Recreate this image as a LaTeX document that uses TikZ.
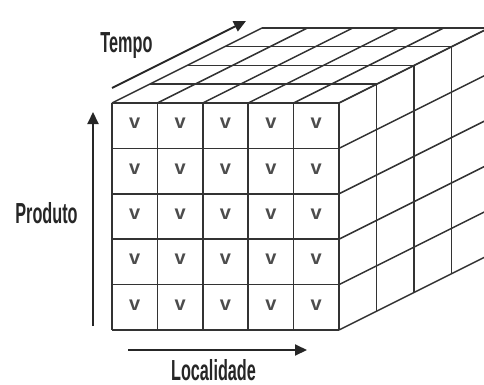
\documentclass[tikz,border=0pt]{standalone}
\usepackage{fontspec}
\setmainfont{Liberation Sans}
\newfontfamily\narrowfont[FakeStretch=0.56]{Liberation Sans}
\usetikzlibrary{arrows.meta}

\begin{document}
\begin{tikzpicture}[
  x=1pt,
  y=-1pt,
  cubeline/.style={black!80, line width=1.5pt},
  axis/.style={black!85, line width=2pt, -{Triangle[length=12pt, width=11pt]}},
  axislabel/.style={font=\narrowfont\bfseries\fontsize{29}{29}\selectfont, text=black!85, anchor=base, inner sep=0pt},
  cellmark/.style={font=\bfseries\fontsize{20}{20}\selectfont, text=black!70, inner sep=0pt}
]
\useasboundingbox (0,0) rectangle (484,385);

% top face
\foreach \i in {0,...,5}
  \draw[cubeline] (112+\i*45.4,103) -- ++(150,-75);
\foreach \k in {0,...,4}
  \draw[cubeline] (112+\k*37.5,103-\k*18.75) -- ++(227,0);

% right face
\foreach \k in {0,...,4}
  \draw[cubeline] (339+\k*37.5,103-\k*18.75) -- ++(0,227);
\foreach \j in {0,...,5}
  \draw[cubeline] (339,103+\j*45.4) -- ++(150,-75);

% front face
\foreach \i in {0,...,5}
  \draw[cubeline] (112+\i*45.4,103) -- ++(0,227);
\foreach \j in {0,...,5}
  \draw[cubeline] (112,103+\j*45.4) -- ++(227,0);

\foreach \i in {0,...,4}
  \foreach \j in {0,...,4}
    \node[cellmark] (v\i\j) at (134.7+\i*45.4,123.5+\j*45.4) {v};

% axes
\coordinate (tempoA) at (112,88);
\coordinate (tempoB) at (246,21);
\coordinate (produtoA) at (93,326);
\coordinate (produtoB) at (93,112);
\coordinate (localA) at (128,350);
\coordinate (localB) at (307,350);
\draw[axis] (tempoA) -- (tempoB);
\draw[axis] (produtoA) -- (produtoB);
\draw[axis] (localA) -- (localB);

\node[axislabel] (tempo) at (126.5,53) {Tempo};
\node[axislabel] (produto) at (46.5,223) {Produto};
\node[axislabel] (localidade) at (213.5,380) {Localidade};
\end{tikzpicture}
\end{document}
